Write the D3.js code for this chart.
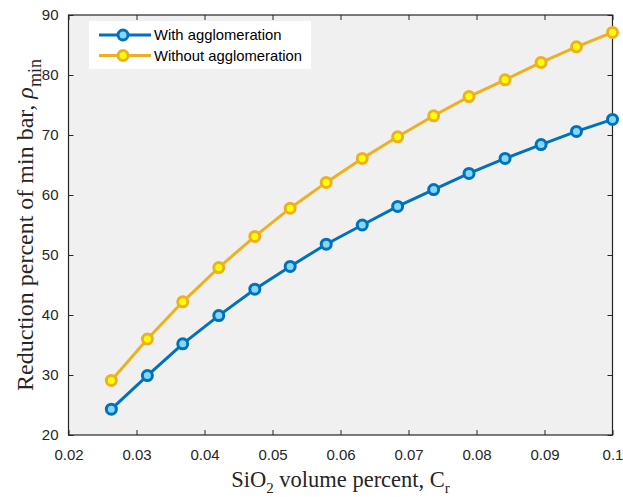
<!DOCTYPE html>
<html>
<head>
<meta charset="utf-8">
<script src="https://cdn.jsdelivr.net/npm/d3@7"></script>
<style>
  body { margin: 0; background: #fff; }
  svg { display: block; }
</style>
</head>
<body>
<div id="chart"></div>
<script>
// Dimensiones de la figura
const width = 623;
const height = 497;
const margin = { top: 15, right: 10, bottom: 62, left: 68.5 };

// Datos
const volumePercent = [0.0263, 0.0316, 0.0368, 0.0421, 0.0474, 0.0526, 0.0579, 0.0632,
                       0.0684, 0.0737, 0.0789, 0.0842, 0.0895, 0.0947, 0.1];
const withAgglomeration = [24.3, 29.9, 35.2, 39.9, 44.3, 48.1, 51.8, 55.0,
                           58.1, 60.9, 63.6, 66.1, 68.4, 70.6, 72.6];
const withoutAgglomeration = [29.1, 36.0, 42.2, 47.9, 53.1, 57.8, 62.1, 66.1,
                              69.7, 73.2, 76.4, 79.2, 82.1, 84.7, 87.1];
const xTicks = [0.02, 0.03, 0.04, 0.05, 0.06, 0.07, 0.08, 0.09, 0.1];
const yTicks = [20, 30, 40, 50, 60, 70, 80, 90];
const seriesNames = ["With agglomeration", "Without agglomeration"];

const series = [
  { name: seriesNames[0], values: withAgglomeration, stroke: "#0072BD", fill: "#84d8f6" },
  { name: seriesNames[1], values: withoutAgglomeration, stroke: "#EDB120", fill: "#ffff00" }
];

const svg = d3.select("#chart").append("svg")
  .attr("width", width)
  .attr("height", height);

const x = d3.scaleLinear().domain([0.02, 0.1]).range([margin.left, width - margin.right - 0.5]);
const y = d3.scaleLinear().domain([20, 90]).range([height - margin.bottom, margin.top]);

// Fondo gris del área de ejes
svg.append("rect")
  .attr("x", x(0.02)).attr("y", y(90))
  .attr("width", x(0.1) - x(0.02)).attr("height", y(20) - y(90))
  .attr("fill", "#f0f0f0");

// Ejes (marcas hacia dentro, estilo MATLAB)
const tickFont = "'Liberation Sans', Arial, sans-serif";
function styleAxis(g) {
  g.select(".domain").remove();
  g.selectAll("line").attr("stroke", "#262626").attr("stroke-width", 1);
  g.selectAll("text").attr("font-family", tickFont).attr("font-size", 15).attr("fill", "#262626");
}

svg.append("g")
  .attr("transform", `translate(0,${y(20)})`)
  .call(d3.axisBottom(x).tickValues(xTicks).tickFormat(d3.format("")).tickSizeInner(-5).tickPadding(14))
  .call(styleAxis);
svg.append("g")
  .attr("transform", `translate(0,${y(90)})`)
  .call(d3.axisTop(x).tickValues(xTicks).tickFormat("").tickSizeInner(-5))
  .call(styleAxis);
svg.append("g")
  .attr("transform", `translate(${x(0.02)},0)`)
  .call(d3.axisLeft(y).tickValues(yTicks).tickSizeInner(-5).tickPadding(10))
  .call(styleAxis);
svg.append("g")
  .attr("transform", `translate(${x(0.1)},0)`)
  .call(d3.axisRight(y).tickValues(yTicks).tickFormat("").tickSizeInner(-5))
  .call(styleAxis);

// Marco
svg.append("rect")
  .attr("x", x(0.02)).attr("y", y(90))
  .attr("width", x(0.1) - x(0.02)).attr("height", y(20) - y(90))
  .attr("fill", "none").attr("stroke", "#262626").attr("stroke-width", 1.2);

// Líneas y marcadores
const line = d3.line().x((d, i) => x(volumePercent[i])).y(d => y(d));

series.forEach(s => {
  svg.append("path")
    .datum(s.values)
    .attr("fill", "none")
    .attr("stroke", s.stroke)
    .attr("stroke-width", 3)
    .attr("d", line);

  svg.selectAll(null)
    .data(s.values)
    .enter()
    .append("circle")
    .attr("cx", (d, i) => x(volumePercent[i]))
    .attr("cy", d => y(d))
    .attr("r", 5)
    .attr("fill", s.fill)
    .attr("stroke", s.stroke)
    .attr("stroke-width", 3);
});

// Leyenda
const legend = svg.append("g").attr("transform", "translate(89,21)");
legend.append("rect")
  .attr("width", 222).attr("height", 48)
  .attr("fill", "#fff");

series.forEach((s, i) => {
  const row = legend.append("g").attr("transform", `translate(0,${14 + i * 20.5})`);
  row.append("line")
    .attr("x1", 10).attr("x2", 62)
    .attr("stroke", s.stroke).attr("stroke-width", 3);
  row.append("circle")
    .attr("cx", 34).attr("r", 5)
    .attr("fill", s.fill).attr("stroke", s.stroke).attr("stroke-width", 3);
  row.append("text")
    .attr("x", 65).attr("dy", "0.35em")
    .attr("font-family", tickFont).attr("font-size", 14.8).attr("fill", "#000")
    .text(s.name);
});

// Títulos de ejes
const serif = "'Liberation Serif', 'Times New Roman', serif";
const xLabel = svg.append("text")
  .attr("x", (x(0.02) + x(0.1)) / 2)
  .attr("y", 487)
  .attr("text-anchor", "middle")
  .attr("font-family", serif).attr("font-size", 22.5).attr("fill", "#262626");
xLabel.append("tspan").text("SiO");
xLabel.append("tspan").attr("font-size", 15).attr("dy", 6).text("2");
xLabel.append("tspan").attr("dy", -6).text(" volume percent, C");
xLabel.append("tspan").attr("font-size", 15).attr("dy", 6).text("r");

const yLabel = svg.append("text")
  .attr("transform", `translate(33,${(y(20) + y(90)) / 2}) rotate(-90)`)
  .attr("text-anchor", "middle")
  .attr("font-family", serif).attr("font-size", 24).attr("fill", "#262626");
yLabel.append("tspan").text("Reduction percent of min bar, ");
yLabel.append("tspan").attr("font-style", "italic").text("ρ");
yLabel.append("tspan").attr("font-size", 18).attr("dy", 8).text("min");
</script>
</body>
</html>
